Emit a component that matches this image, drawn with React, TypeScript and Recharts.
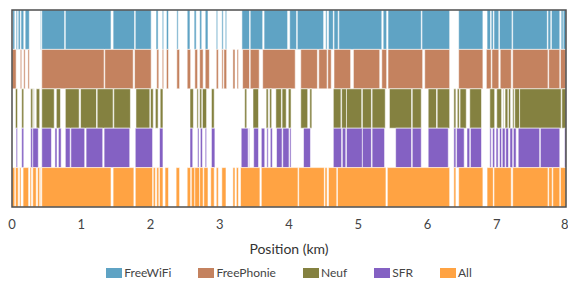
import React from "react";
import { ComposedChart, XAxis, YAxis, ReferenceArea } from "recharts";

type Span = [number, number];

const bandNames = ["FreeWiFi", "FreePhonie", "Neuf", "SFR", "All"];
const bandColors = ["#5fa3c4", "#c4825f", "#848140", "#8461c3", "#ffa343"];
const xTicks = [0, 1, 2, 3, 4, 5, 6, 7, 8];

// coverage spans along the route, in km
const freeWifi: Span[] = [
  [0.01, 0.04], [0.06, 0.08], [0.09, 0.12], [0.13, 0.17], [0.19, 0.25], [0.41, 0.42],
  [0.43, 0.76], [0.77, 1.43], [1.46, 1.77], [1.78, 2.01], [2.08, 2.11], [2.17, 2.19],
  [2.23, 2.26], [2.38, 2.4], [2.53, 2.57], [2.63, 2.66], [2.71, 2.74], [2.79, 2.83],
  [2.95, 2.97], [3.03, 3.05], [3.08, 3.1], [3.32, 3.43], [3.44, 3.62], [3.64, 3.98],
  [4.01, 4.11], [4.12, 4.5], [4.53, 4.55], [4.57, 4.64], [4.65, 4.71], [4.72, 5.34],
  [5.36, 5.41], [5.43, 5.91], [5.92, 6.32], [6.45, 6.8], [6.86, 6.91], [6.92, 6.95],
  [6.96, 7.03], [7.04, 7.22], [7.23, 7.73], [7.74, 7.78], [7.79, 7.91], [7.93, 7.96],
  [7.96, 8.0],
];

const freePhonie: Span[] = [
  [0.0, 0.06], [0.12, 0.14], [0.17, 0.19], [0.23, 0.25], [0.43, 1.33], [1.34, 1.75],
  [1.77, 2.01], [2.09, 2.12], [2.17, 2.19], [2.23, 2.26], [2.38, 2.42], [2.53, 2.58],
  [2.64, 2.68], [2.71, 2.76], [2.79, 2.85], [2.95, 2.98], [3.03, 3.05], [3.06, 3.1],
  [3.19, 3.22], [3.25, 3.27], [3.33, 3.43], [3.44, 3.57], [3.62, 4.09], [4.17, 4.41],
  [4.43, 4.55], [4.56, 4.61], [4.65, 4.89], [4.93, 5.31], [5.34, 5.41], [5.43, 5.93],
  [5.96, 6.32], [6.45, 6.8], [6.85, 6.92], [6.93, 7.03], [7.05, 7.21], [7.23, 7.74],
  [7.75, 7.91], [7.92, 8.0],
];

const neuf: Span[] = [
  [0.05, 0.08], [0.14, 0.17], [0.27, 0.3], [0.31, 0.32], [0.35, 0.4], [0.43, 0.61],
  [0.64, 0.7], [0.77, 0.97], [0.99, 1.22], [1.23, 1.46], [1.47, 1.71], [1.79, 1.99],
  [2.0, 2.04], [2.07, 2.11], [2.14, 2.18], [2.57, 2.62], [2.67, 2.69], [2.71, 2.74],
  [2.75, 2.81], [2.88, 2.92], [3.36, 3.39], [3.48, 3.56], [3.67, 3.7], [3.72, 3.75],
  [3.81, 3.89], [3.9, 3.96], [3.99, 4.03], [4.17, 4.27], [4.3, 4.33], [4.64, 4.75],
  [4.76, 4.83], [4.83, 5.05], [5.06, 5.19], [5.2, 5.39], [5.45, 5.77], [5.78, 5.91],
  [6.01, 6.13], [6.14, 6.32], [6.38, 6.41], [6.43, 6.46], [6.47, 6.56], [6.61, 6.78],
  [6.9, 6.97], [7.0, 7.07], [7.09, 7.1], [7.12, 7.16], [7.17, 7.2], [7.23, 7.25],
  [7.26, 7.33], [7.33, 7.93], [7.94, 8.0],
];

const sfr: Span[] = [
  [0.06, 0.08], [0.14, 0.17], [0.27, 0.3], [0.3, 0.38], [0.43, 0.57], [0.62, 0.65],
  [0.67, 0.71], [0.77, 0.84], [0.85, 1.05], [1.07, 1.31], [1.33, 1.7], [1.78, 2.03],
  [2.13, 2.18], [2.57, 2.61], [2.68, 2.7], [2.72, 2.75], [2.79, 2.81], [2.88, 2.93],
  [3.31, 3.41], [3.42, 3.43], [3.49, 3.56], [3.6, 3.65], [3.68, 3.7], [3.73, 3.76],
  [3.82, 3.9], [3.91, 4.0], [4.01, 4.03], [4.21, 4.31], [4.64, 4.76], [4.77, 4.82],
  [4.83, 5.06], [5.06, 5.19], [5.2, 5.38], [5.54, 5.77], [5.78, 5.91], [6.01, 6.3],
  [6.38, 6.41], [6.42, 6.53], [6.57, 6.61], [6.62, 6.78], [6.9, 6.92], [6.94, 6.97],
  [6.99, 7.02], [7.04, 7.07], [7.08, 7.12], [7.13, 7.17], [7.19, 7.23], [7.24, 7.28],
  [7.31, 7.62], [7.63, 7.91], [7.98, 8.0],
];

const all: Span[] = [
  [0.0, 0.04], [0.05, 0.09], [0.11, 0.13], [0.16, 0.24], [0.26, 0.28], [0.3, 0.35],
  [0.37, 0.4], [0.41, 0.42], [0.43, 1.43], [1.46, 1.76], [1.78, 2.03], [2.04, 2.07],
  [2.09, 2.12], [2.13, 2.18], [2.21, 2.26], [2.37, 2.42], [2.53, 2.58], [2.59, 2.64],
  [2.64, 2.71], [2.71, 2.76], [2.77, 2.83], [2.87, 2.92], [2.95, 2.98], [3.03, 3.09],
  [3.19, 3.22], [3.24, 3.27], [3.3, 3.58], [3.6, 4.13], [4.14, 4.51], [4.52, 4.55],
  [4.57, 4.69], [4.7, 5.4], [5.42, 6.32], [6.38, 6.41], [6.45, 6.8], [6.86, 6.95],
  [6.96, 7.21], [7.23, 7.74], [7.75, 7.8], [7.81, 7.91], [7.92, 8.0],
];

const bandSpans = [freeWifi, freePhonie, neuf, sfr, all];

const font = "Lato, 'Open Sans', sans-serif";

export default function App() {
  return (
    <div style={{ position: "absolute", left: 0, top: 0, width: 568, height: 283, fontFamily: font }}>
      <ComposedChart
        width={568}
        height={283}
        data={bandNames.map((name) => ({ name }))}
        margin={{ top: 10, right: 2, left: 12, bottom: 26 }}
      >
        <XAxis
          type="number"
          dataKey="x"
          domain={[0, 8]}
          ticks={xTicks}
          allowDataOverflow
          axisLine={false}
          tickLine={false}
          tickSize={0}
          tickMargin={13}
          height={50}
          tick={{ fill: "#444", fontSize: 13, fontFamily: font }}
          label={{
            value: "Position (km)",
            position: "insideBottom",
            offset: 3,
            fill: "#333",
            fontSize: 14,
            fontFamily: font,
          }}
        />
        <YAxis type="number" domain={[0, 5]} allowDataOverflow reversed hide />
        {bandSpans.map((spans, band) =>
          spans.map(([start, end], i) => (
            <ReferenceArea
              key={`${band}-${i}`}
              x1={start}
              x2={end}
              y1={band}
              y2={band + 1}
              fill={bandColors[band]}
              fillOpacity={1}
              stroke="#fff"
              strokeOpacity={0.55}
              strokeWidth={1}
            />
          ))
        )}
        <ReferenceArea
          x1={0}
          x2={8}
          y1={0}
          y2={5}
          fill="none"
          stroke="#4d4d4d"
          strokeWidth={1.5}
        />
      </ComposedChart>
      <div
        style={{
          position: "absolute",
          left: 10,
          width: 558,
          top: 265,
          display: "flex",
          justifyContent: "center",
          gap: 27,
          fontSize: 12,
          color: "#444",
          lineHeight: "16px",
        }}
      >
        {bandNames.map((name, i) => (
          <div key={name} style={{ display: "flex", alignItems: "center" }}>
            <span
              style={{
                display: "inline-block",
                width: 16,
                height: 10,
                background: bandColors[i],
                marginRight: 2,
              }}
            />
            <span>{name}</span>
          </div>
        ))}
      </div>
    </div>
  );
}
